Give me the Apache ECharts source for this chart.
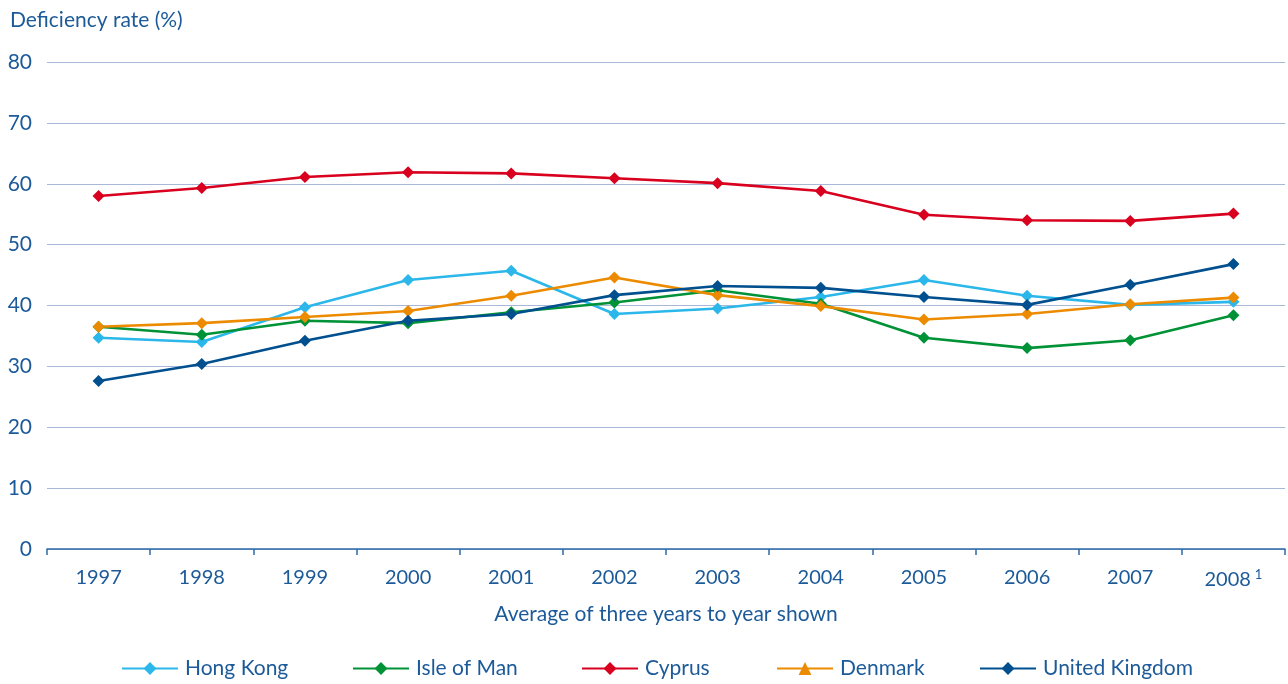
<!DOCTYPE html>
<html>
<head>
<meta charset="utf-8">
<script src="https://cdn.jsdelivr.net/npm/echarts@6/dist/echarts.min.js"></script>
<style>
  html, body { margin: 0; padding: 0; background: #ffffff; }
  #chart { width: 1288px; height: 684px; }
</style>
</head>
<body>
<div id="chart"></div>
<script>
// Three-year average deficiency rates by flag / port state
const years = ['1997', '1998', '1999', '2000', '2001', '2002', '2003', '2004', '2005', '2006', '2007', '2008'];
const yTicks = [0, 10, 20, 30, 40, 50, 60, 70, 80];

const hongKong      = [34.7, 34.0, 39.7, 44.2, 45.7, 38.6, 39.5, 41.4, 44.2, 41.6, 40.1, 40.6];
const isleOfMan     = [36.5, 35.2, 37.5, 37.1, 38.9, 40.5, 42.5, 40.3, 34.7, 33.0, 34.3, 38.4];
const cyprus        = [58.0, 59.3, 61.1, 61.9, 61.7, 60.9, 60.1, 58.8, 54.9, 54.0, 53.9, 55.1];
const denmark       = [36.5, 37.1, 38.1, 39.1, 41.6, 44.6, 41.7, 39.9, 37.7, 38.6, 40.2, 41.3];
const unitedKingdom = [27.6, 30.4, 34.2, 37.5, 38.6, 41.7, 43.2, 42.9, 41.4, 40.1, 43.4, 46.8];

const textColor = '#1c5a99';
const fontFamily = 'Lato, "Open Sans", sans-serif';

// Denmark's key shows a triangle while its points stay diamonds
const seriesDefs = [
  { name: 'Hong Kong',      data: hongKong,      color: '#2bb7e9', legendLeft: 116, keySymbol: 'diamond' },
  { name: 'Isle of Man',    data: isleOfMan,     color: '#009236', legendLeft: 347, keySymbol: 'diamond' },
  { name: 'Cyprus',         data: cyprus,        color: '#d8001e', legendLeft: 576, keySymbol: 'diamond' },
  { name: 'Denmark',        data: denmark,       color: '#ec8b00', legendLeft: 771, keySymbol: 'triangle' },
  { name: 'United Kingdom', data: unitedKingdom, color: '#00508f', legendLeft: 974, keySymbol: 'diamond' }
];

const chart = echarts.init(document.getElementById('chart'), null, { renderer: 'canvas' });

chart.setOption({
  animation: false,
  backgroundColor: '#ffffff',
  textStyle: { fontFamily: fontFamily, color: textColor },
  title: {
    text: 'Deficiency rate (%)',
    left: 5,
    top: 5,
    textStyle: { fontFamily: fontFamily, fontSize: 21, fontWeight: 'normal', color: textColor }
  },
  legend: seriesDefs.map(s => ({
    data: [s.name],
    left: s.legendLeft,
    top: 653,
    itemWidth: 56,
    itemHeight: 16,
    itemGap: 0,
    textStyle: { fontFamily: fontFamily, fontSize: 21, color: textColor, padding: [0, 0, 0, 2] }
  })),
  grid: { left: 47, right: 3, top: 62, bottom: 135, containLabel: false },
  xAxis: {
    type: 'category',
    data: years,
    boundaryGap: true,
    name: 'Average of three years to year shown',
    nameLocation: 'middle',
    nameGap: 55,
    nameTextStyle: { fontFamily: fontFamily, fontSize: 21, color: textColor },
    axisLine: { lineStyle: { color: '#2d6aa8', width: 1.5 } },
    axisTick: { show: true, interval: 0, alignWithLabel: false, length: 6, lineStyle: { color: '#2d6aa8', width: 1.5 } },
    axisLabel: {
      interval: 0,
      margin: 19,
      fontFamily: fontFamily,
      fontSize: 20,
      color: textColor,
      formatter: (v, i) => i === years.length - 1 ? v + '{sup|1}' : v,
      rich: {
        sup: { fontFamily: fontFamily, fontSize: 13, color: textColor, verticalAlign: 'top', padding: [0, 0, 10, 4] }
      }
    },
    splitLine: { show: false }
  },
  yAxis: {
    type: 'value',
    min: yTicks[0],
    max: yTicks[yTicks.length - 1],
    interval: 10,
    axisLine: { show: false },
    axisTick: { show: false },
    axisLabel: { margin: 15, fontFamily: fontFamily, fontSize: 21, color: textColor },
    splitLine: { lineStyle: { color: '#a9b7d8', width: 1.2 } }
  },
  series: seriesDefs.map(s => ({
    name: s.name,
    type: 'line',
    data: s.data.map(v => ({ value: v, symbol: 'diamond' })),
    symbol: s.keySymbol,
    symbolSize: 12,
    showSymbol: true,
    color: s.color,
    lineStyle: { color: s.color, width: 2.6 },
    itemStyle: { color: s.color },
    emphasis: { disabled: true }
  }))
});
</script>
</body>
</html>
